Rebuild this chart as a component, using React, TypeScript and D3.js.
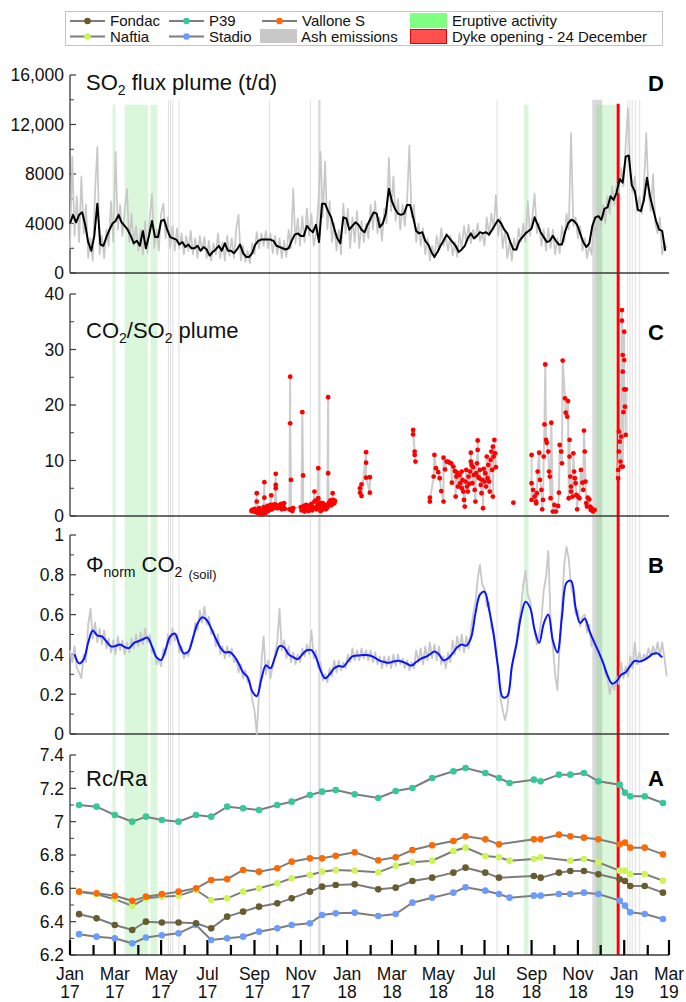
import React from 'react';
import * as d3 from 'd3';

const FONT = '"Liberation Sans", Arial, Helvetica, sans-serif';

// ---- Rc/Ra campaigns (panel A) ----
const campaignDates = [
  '2017-01-13', '2017-02-05', '2017-03-01', '2017-03-24', '2017-04-11', '2017-05-02', '2017-05-24',
  '2017-06-16', '2017-07-06', '2017-07-27', '2017-08-17', '2017-09-07', '2017-10-01', '2017-10-20',
  '2017-11-13', '2017-11-29', '2017-12-17',
  '2018-01-11', '2018-02-11', '2018-03-06', '2018-03-28', '2018-04-23', '2018-05-21', '2018-06-06',
  '2018-07-02', '2018-07-20', '2018-08-03', '2018-09-04', '2018-09-13', '2018-10-07', '2018-10-22',
  '2018-11-09', '2018-11-28', '2018-12-26',
  '2019-01-02', '2019-01-09', '2019-01-28', '2019-02-21',
];
const p39 = [
  7.10, 7.09, 7.04, 7.00, 7.03, 7.01, 7.00, 7.04, 7.03, 7.09, 7.08, 7.07, 7.10, 7.12, 7.16, 7.18, 7.19,
  7.164, 7.142, 7.184, 7.202, 7.262, 7.302, 7.322, 7.292, 7.262, 7.232, 7.252, 7.242, 7.282, 7.282, 7.292, 7.242,
  7.222, 7.174, 7.152, 7.152, 7.112,
];
const valloneS = [
  6.58, 6.57, 6.555, 6.525, 6.55, 6.565, 6.58, 6.60, 6.65, 6.655, 6.71, 6.70, 6.72, 6.76, 6.78, 6.78, 6.795,
  6.816, 6.768, 6.786, 6.83, 6.858, 6.884, 6.912, 6.894, 6.864, null, 6.894, 6.894, 6.922, 6.912, 6.904, 6.894,
  6.864, 6.874, 6.844, 6.844, 6.804,
];
const naftia = [
  6.58, 6.565, 6.535, 6.495, 6.54, 6.55, 6.555, 6.59, 6.53, 6.54, 6.58, 6.60, 6.63, 6.66, 6.68, 6.70, 6.71,
  6.706, 6.696, 6.736, 6.756, 6.766, 6.824, 6.844, 6.794, 6.786, 6.766, 6.776, 6.786, null, 6.766, 6.776, 6.756,
  6.706, 6.706, 6.686, 6.686, 6.646,
];
const fondac = [
  6.445, 6.42, 6.38, 6.35, 6.40, 6.395, 6.395, 6.39, 6.36, 6.43, 6.46, 6.49, 6.51, 6.54, 6.58, 6.61, 6.62,
  6.624, 6.594, 6.604, 6.644, 6.664, 6.694, 6.724, 6.694, 6.664, null, 6.674, 6.664, 6.694, 6.704, 6.704, 6.684,
  6.654, 6.644, 6.614, 6.614, 6.574,
];
const stadio = [
  6.325, 6.31, 6.30, 6.27, 6.305, 6.318, 6.33, 6.38, 6.29, 6.30, 6.31, 6.34, 6.36, 6.38, 6.39, 6.44, 6.45,
  6.454, 6.434, 6.446, 6.514, 6.544, 6.574, 6.606, 6.586, 6.566, 6.544, 6.556, 6.556, 6.566, 6.566, 6.574, 6.566,
  6.526, 6.496, 6.456, 6.446, 6.416,
];

// ---- SO2 flux (panel D), thousands of t/d ----
const so2SmoothStart = '2017-01-01';
const so2SmoothStep = 4;
const so2Smooth = [
  4.0, 4.7, 4.1, 4.7, 4.9, 3.9, 2.5, 1.8, 3.0, 5.6,
  2.3, 2.2, 2.9, 3.5, 4.0, 4.2, 4.7, 4.1, 3.8, 3.5,
  3.0, 2.4, 2.6, 2.2, 3.4, 2.0, 3.0, 4.2, 2.9, 2.9,
  4.2, 4.3, 3.5, 2.9, 2.8, 2.7, 2.3, 2.5, 2.1, 2.3,
  2.0, 2.0, 2.2, 1.8, 2.1, 1.9, 1.4, 1.7, 1.9, 2.2,
  1.8, 2.4, 1.8, 1.8, 1.6, 1.9, 2.3, 1.6, 1.3, 1.3,
  1.6, 2.3, 2.6, 2.7, 2.7, 2.7, 2.7, 2.6, 2.2, 2.1,
  2.0, 1.9, 2.0, 2.6, 3.1, 3.2, 3.0, 3.0, 3.8, 3.5,
  3.3, 3.9, 2.5, 5.6, 5.6, 5.0, 4.5, 3.6, 2.8, 2.4,
  4.5, 4.4, 3.5, 3.8, 4.1, 3.9, 3.5, 3.3, 3.9, 4.4,
  4.9, 4.8, 3.7, 4.0, 4.8, 6.8, 5.8, 5.2, 4.8, 4.7,
  4.8, 5.5, 5.5, 4.5, 3.4, 3.2, 3.3, 2.6, 2.3, 1.7,
  1.3, 1.7, 2.2, 2.6, 3.1, 2.8, 2.5, 2.2, 1.7, 1.9,
  2.2, 2.8, 3.2, 2.8, 3.0, 3.3, 3.2, 3.3, 3.1, 3.5,
  3.9, 4.3, 4.0, 3.5, 3.2, 2.5, 1.9, 1.9, 2.6, 2.9,
  3.2, 3.4, 3.6, 4.5, 3.9, 3.3, 2.9, 2.5, 2.6, 3.0,
  2.6, 2.3, 2.3, 3.3, 4.0, 4.3, 4.2, 3.9, 3.2, 2.5,
  2.1, 2.4, 3.8, 4.5, 4.6, 4.3, 5.2, 5.3, 6.2, 5.9,
  6.5, 7.6, 7.3, 9.4, 9.5, 7.1, 6.6, 5.1, 5.0, 5.9,
  7.7, 6.2, 5.2, 4.2, 3.5, 3.4, 1.8,
];
const so2RawStart = '2017-01-01';
const so2RawStep = 3;
const so2Raw = [
  2.0, 9.4, 3.0, 6.2, 2.5, 7.8, 3.2, 5.5, 1.2, 2.8,
  1.0, 6.5, 10.2, 1.5, 3.0, 1.2, 3.5, 2.2, 5.8, 2.5,
  9.8, 3.5, 5.5, 3.0, 5.0, 6.8, 2.5, 4.8, 2.2, 3.8,
  1.8, 3.5, 1.5, 4.2, 1.6, 4.5, 6.4, 2.0, 3.5, 1.8,
  4.8, 5.6, 2.8, 4.5, 2.0, 3.8, 1.8, 3.6, 2.0, 3.2,
  1.5, 3.0, 1.8, 3.4, 1.5, 2.8, 1.2, 3.0, 1.8, 2.9,
  1.2, 2.6, 1.0, 2.4, 1.5, 3.2, 1.2, 2.5, 1.0, 3.0,
  1.4, 2.8, 1.2, 3.6, 4.7, 1.0, 2.2, 0.9, 1.8, 0.8,
  2.4, 1.5, 3.3, 2.0, 3.2, 2.2, 3.4, 2.0, 3.2, 1.6,
  3.0, 1.5, 2.8, 1.2, 2.6, 1.3, 3.5, 2.0, 6.8, 2.4,
  4.4, 2.2, 4.6, 2.5, 5.2, 3.0, 4.8, 2.2, 3.2, 5.5,
  9.8, 4.5, 9.0, 3.5, 5.8, 2.5, 4.0, 1.8, 3.5, 1.5,
  5.6, 3.2, 5.2, 2.0, 4.5, 2.5, 5.0, 2.0, 4.2, 2.5,
  4.0, 2.8, 5.5, 3.5, 5.8, 3.2, 4.5, 2.6, 5.2, 4.0,
  9.3, 5.0, 7.8, 4.2, 6.0, 3.5, 5.5, 3.8, 5.8, 10.3,
  4.5, 5.5, 2.5, 4.0, 2.2, 3.6, 1.5, 2.8, 1.0, 2.2,
  1.2, 3.0, 1.8, 3.6, 2.2, 3.0, 1.8, 3.0, 1.4, 2.5,
  1.3, 3.2, 2.0, 3.8, 2.5, 3.9, 2.4, 3.5, 2.8, 4.0,
  2.6, 3.2, 2.2, 4.5, 3.0, 4.8, 3.5, 6.3, 3.0, 4.5,
  2.0, 3.5, 1.2, 2.5, 1.0, 2.8, 1.8, 3.6, 2.5, 4.0,
  2.5, 5.8, 3.0, 4.5, 6.4, 3.2, 4.0, 2.2, 3.5, 1.8,
  3.6, 2.0, 3.5, 1.5, 2.8, 1.6, 3.8, 2.5, 4.8, 3.5,
  11.3, 3.8, 4.5, 2.8, 3.8, 1.8, 2.8, 1.2, 2.2, 1.5,
  4.2, 3.0, 5.2, 3.8, 5.5, 4.0, 6.2, 4.8, 7.0, 5.5,
  7.2, 6.5, 8.5, 7.0, 10.5, 13.3, 8.0, 6.5, 7.8, 5.0,
  6.2, 4.8, 7.0, 11.3, 6.5, 5.0, 8.0, 4.0, 3.2, 4.5,
  1.5, 2.5, 2.0,
];

// ---- CO2/SO2 plume ratio (panel C) ----
const ratioPoints: [string, number][] = [
  ['2017-08-28', 0.9], ['2017-08-29', 1.1], ['2017-08-31', 0.8], ['2017-09-01', 1.3], ['2017-09-03', 0.7],
  ['2017-09-04', 4.1], ['2017-09-04', 2.6], ['2017-09-05', 1.0], ['2017-09-06', 0.5], ['2017-09-07', 1.4],
  ['2017-09-08', 0.6], ['2017-09-09', 0.9], ['2017-09-10', 0.3], ['2017-09-11', 1.2], ['2017-09-12', 0.4],
  ['2017-09-13', 1.6], ['2017-09-14', 6.1], ['2017-09-14', 3.3], ['2017-09-14', 1.0], ['2017-09-15', 0.5],
  ['2017-09-16', 1.3], ['2017-09-17', 0.8], ['2017-09-18', 1.8], ['2017-09-19', 0.9], ['2017-09-20', 1.5],
  ['2017-09-21', 1.1], ['2017-09-22', 2.0], ['2017-09-23', 3.7], ['2017-09-23', 1.6], ['2017-09-24', 1.2],
  ['2017-09-25', 2.0], ['2017-09-26', 1.4], ['2017-09-27', 1.8], ['2017-09-28', 2.1], ['2017-09-29', 7.6],
  ['2017-09-29', 5.6], ['2017-09-29', 5.0], ['2017-09-30', 1.7], ['2017-10-01', 1.4], ['2017-10-02', 1.9],
  ['2017-10-05', 1.5], ['2017-10-06', 2.2], ['2017-10-07', 1.2], ['2017-10-08', 2.0], ['2017-10-09', 1.6],
  ['2017-10-10', 2.3], ['2017-10-11', 1.3],
  ['2017-10-17', 1.2], ['2017-10-18', 25.1], ['2017-10-18', 16.7], ['2017-10-19', 6.5], ['2017-10-19', 1.1],
  ['2017-10-20', 1.3], ['2017-10-21', 0.9], ['2017-10-22', 1.4],
  ['2017-11-01', 1.6], ['2017-11-02', 1.0], ['2017-11-03', 18.7], ['2017-11-04', 7.3], ['2017-11-04', 1.2],
  ['2017-11-05', 1.8], ['2017-11-06', 0.8], ['2017-11-07', 1.5], ['2017-11-08', 2.0], ['2017-11-09', 1.1],
  ['2017-11-10', 1.7], ['2017-11-11', 0.9], ['2017-11-13', 1.9], ['2017-11-14', 1.3], ['2017-11-15', 2.2],
  ['2017-11-16', 1.0], ['2017-11-17', 1.6], ['2017-11-19', 4.4], ['2017-11-19', 2.6], ['2017-11-20', 1.4],
  ['2017-11-21', 2.8], ['2017-11-22', 1.2], ['2017-11-23', 2.0], ['2017-11-24', 8.6], ['2017-11-24', 3.2],
  ['2017-11-25', 1.5], ['2017-11-26', 2.4], ['2017-11-27', 0.9], ['2017-11-28', 1.8], ['2017-11-29', 1.1],
  ['2017-11-30', 2.3], ['2017-12-01', 1.4], ['2017-12-03', 2.0], ['2017-12-04', 1.2], ['2017-12-06', 1.5],
  ['2017-12-07', 21.4], ['2017-12-07', 7.7], ['2017-12-08', 2.4], ['2017-12-09', 2.1], ['2017-12-10', 2.8],
  ['2017-12-11', 1.9], ['2017-12-12', 2.6], ['2017-12-13', 4.1], ['2017-12-13', 2.2], ['2017-12-14', 2.9],
  ['2017-12-15', 2.3], ['2017-12-16', 2.7],
  ['2018-01-18', 5.0], ['2018-01-18', 4.2], ['2018-01-20', 5.7], ['2018-01-20', 3.6], ['2018-01-26', 11.5],
  ['2018-01-26', 9.6], ['2018-01-26', 6.9], ['2018-01-31', 4.2], ['2018-01-31', 7.0],
  ['2018-03-29', 15.5], ['2018-03-29', 14.7], ['2018-03-31', 11.6], ['2018-03-31', 11.0], ['2018-04-01', 9.8],
  ['2018-04-20', 3.3], ['2018-04-20', 2.6], ['2018-04-25', 7.1], ['2018-04-26', 11.0], ['2018-04-28', 8.6],
  ['2018-05-01', 7.9], ['2018-05-03', 6.8], ['2018-05-05', 4.5], ['2018-05-08', 2.6], ['2018-05-08', 10.5],
  ['2018-05-10', 8.4], ['2018-05-12', 9.8], ['2018-05-14', 9.8], ['2018-05-16', 9.6], ['2018-05-18', 9.5],
  ['2018-05-19', 6.0], ['2018-05-21', 8.9], ['2018-05-23', 8.1], ['2018-05-24', 3.5], ['2018-05-25', 7.1],
  ['2018-05-26', 7.8], ['2018-05-27', 5.3], ['2018-05-29', 7.4], ['2018-05-30', 5.9], ['2018-06-01', 5.0],
  ['2018-06-01', 8.0], ['2018-06-02', 6.5], ['2018-06-03', 4.4], ['2018-06-04', 2.9], ['2018-06-05', 1.7],
  ['2018-06-06', 6.2], ['2018-06-07', 8.3], ['2018-06-08', 5.3], ['2018-06-09', 4.4], ['2018-06-10', 7.1],
  ['2018-06-11', 5.8], ['2018-06-12', 8.0], ['2018-06-13', 9.8], ['2018-06-13', 11.4], ['2018-06-14', 9.2],
  ['2018-06-15', 5.9], ['2018-06-16', 8.8], ['2018-06-17', 7.4], ['2018-06-18', 4.7], ['2018-06-19', 2.6],
  ['2018-06-20', 7.7], ['2018-06-21', 9.5], ['2018-06-22', 11.9], ['2018-06-22', 13.6], ['2018-06-23', 7.0],
  ['2018-06-24', 6.8], ['2018-06-25', 8.3], ['2018-06-26', 5.6], ['2018-06-27', 4.1], ['2018-06-28', 6.5],
  ['2018-06-29', 1.4], ['2018-06-30', 8.5], ['2018-07-01', 6.2], ['2018-07-02', 7.7], ['2018-07-03', 5.3],
  ['2018-07-04', 10.7], ['2018-07-05', 6.8], ['2018-07-06', 9.2], ['2018-07-07', 6.2], ['2018-07-08', 4.4],
  ['2018-07-09', 10.1], ['2018-07-10', 11.6], ['2018-07-11', 8.3], ['2018-07-12', 12.5], ['2018-07-12', 3.5],
  ['2018-07-13', 10.7], ['2018-07-14', 13.7], ['2018-07-15', 11.3], ['2018-07-16', 8.8],
  ['2018-08-08', 2.4],
  ['2018-09-01', 11.0], ['2018-09-01', 5.9], ['2018-09-01', 2.9], ['2018-09-03', 4.7], ['2018-09-05', 3.5],
  ['2018-09-07', 2.6], ['2018-09-07', 2.3], ['2018-09-08', 4.1], ['2018-09-09', 8.0], ['2018-09-11', 11.4],
  ['2018-09-12', 6.5], ['2018-09-14', 4.7], ['2018-09-15', 1.2], ['2018-09-16', 2.9], ['2018-09-17', 10.7],
  ['2018-09-18', 16.5], ['2018-09-19', 27.3], ['2018-09-20', 13.7], ['2018-09-21', 13.2], ['2018-09-23', 11.6],
  ['2018-09-24', 8.0], ['2018-09-25', 7.1], ['2018-09-26', 3.2], ['2018-09-27', 16.8], ['2018-09-29', 0.8],
  ['2018-10-01', 2.0], ['2018-10-03', 0.8], ['2018-10-06', 1.8], ['2018-10-07', 4.2], ['2018-10-08', 12.8],
  ['2018-10-10', 11.6], ['2018-10-11', 9.5], ['2018-10-12', 28.0], ['2018-10-15', 21.2], ['2018-10-16', 18.6],
  ['2018-10-18', 17.9], ['2018-10-19', 20.7], ['2018-10-20', 3.2], ['2018-10-21', 13.7], ['2018-10-21', 10.7],
  ['2018-10-22', 7.1], ['2018-10-23', 5.3], ['2018-10-23', 4.4], ['2018-10-25', 3.5], ['2018-10-26', 11.3],
  ['2018-10-27', 8.0], ['2018-10-28', 6.8], ['2018-10-29', 5.9], ['2018-10-30', 3.8], ['2018-10-31', 1.2],
  ['2018-11-01', 3.5], ['2018-11-03', 3.2], ['2018-11-05', 8.3], ['2018-11-07', 6.0], ['2018-11-08', 4.7],
  ['2018-11-09', 15.4], ['2018-11-10', 11.6], ['2018-11-11', 6.2], ['2018-11-12', 2.3], ['2018-11-13', 1.7],
  ['2018-11-14', 3.3], ['2018-11-16', 3.0], ['2018-11-17', 1.7], ['2018-11-18', 1.1], ['2018-11-19', 1.4],
  ['2018-11-20', 1.0], ['2018-11-21', 0.8], ['2018-11-23', 1.1],
  ['2018-12-24', 6.8], ['2018-12-24', 8.3], ['2018-12-25', 11.6], ['2018-12-25', 15.2], ['2018-12-26', 13.4],
  ['2018-12-27', 9.8], ['2018-12-28', 8.9], ['2018-12-28', 14.3], ['2018-12-29', 37.1], ['2018-12-29', 35.2],
  ['2018-12-30', 29.0], ['2018-12-30', 26.0], ['2018-12-30', 8.9], ['2018-12-31', 18.7], ['2019-01-01', 33.2],
  ['2019-01-01', 28.1], ['2019-01-01', 22.8], ['2019-01-02', 19.7], ['2019-01-03', 22.8], ['2019-01-03', 14.6],
];

// ---- normalised soil CO2 flux (panel B) ----
const soilRawStart = '2017-01-01';
const soilRawStep = 3;
const soilRaw = [
  0.42, 0.36, 0.44, 0.33, 0.31, 0.28, 0.40, 0.36, 0.55, 0.63,
  0.48, 0.56, 0.46, 0.53, 0.45, 0.52, 0.43, 0.48, 0.41, 0.47,
  0.40, 0.49, 0.42, 0.47, 0.40, 0.46, 0.41, 0.48, 0.43, 0.50,
  0.44, 0.51, 0.45, 0.53, 0.46, 0.50, 0.41, 0.43, 0.35, 0.38,
  0.34, 0.43, 0.40, 0.50, 0.45, 0.53, 0.47, 0.50, 0.41, 0.44,
  0.38, 0.41, 0.39, 0.46, 0.47, 0.56, 0.52, 0.62, 0.56, 0.64,
  0.55, 0.59, 0.50, 0.52, 0.44, 0.50, 0.40, 0.44, 0.38, 0.44,
  0.39, 0.43, 0.36, 0.38, 0.31, 0.35, 0.28, 0.32, 0.26, 0.27,
  0.17, 0.12, 0.00, 0.21, 0.35, 0.49, 0.30, 0.37, 0.28, 0.34,
  0.40, 0.46, 0.63, 0.42, 0.47, 0.38, 0.44, 0.36, 0.41, 0.35,
  0.40, 0.36, 0.43, 0.39, 0.45, 0.40, 0.52, 0.38, 0.42, 0.33,
  0.36, 0.27, 0.30, 0.26, 0.33, 0.29, 0.37, 0.31, 0.37, 0.32,
  0.36, 0.33, 0.40, 0.36, 0.43, 0.37, 0.42, 0.37, 0.43, 0.38,
  0.42, 0.37, 0.42, 0.36, 0.41, 0.35, 0.39, 0.33, 0.39, 0.34,
  0.39, 0.33, 0.40, 0.34, 0.40, 0.35, 0.38, 0.33, 0.37, 0.32,
  0.36, 0.33, 0.42, 0.36, 0.43, 0.35, 0.44, 0.37, 0.46, 0.38,
  0.45, 0.37, 0.44, 0.35, 0.39, 0.33, 0.41, 0.36, 0.47, 0.40,
  0.49, 0.42, 0.50, 0.41, 0.49, 0.43, 0.52, 0.60, 0.66, 0.78,
  0.85, 0.75, 0.73, 0.64, 0.66, 0.53, 0.52, 0.40, 0.33, 0.18,
  0.12, 0.07, 0.12, 0.25, 0.33, 0.41, 0.46, 0.56, 0.63, 0.75,
  0.82, 0.70, 0.67, 0.58, 0.52, 0.45, 0.50, 0.58, 0.72, 0.79,
  0.92, 0.58, 0.44, 0.30, 0.22, 0.45, 0.65, 0.85, 0.94, 0.88,
  0.74, 0.70, 0.60, 0.62, 0.54, 0.59, 0.60, 0.51, 0.55, 0.44,
  0.48, 0.40, 0.44, 0.36, 0.37, 0.30, 0.28, 0.20, 0.26, 0.22,
  0.29, 0.25, 0.36, 0.28, 0.34, 0.29, 0.39, 0.33, 0.46, 0.35,
  0.41, 0.36, 0.40, 0.38, 0.43, 0.39, 0.44, 0.40, 0.46, 0.39,
  0.46, 0.38, 0.29,
];
const soilSmoothStart = '2017-01-07';
const soilSmoothStep = 6;
const soilSmooth = [
  0.40, 0.355, 0.375, 0.46, 0.52, 0.495, 0.49, 0.465, 0.44, 0.442,
  0.45, 0.437, 0.432, 0.457, 0.466, 0.476, 0.484, 0.44, 0.385, 0.372,
  0.425, 0.49, 0.505, 0.45, 0.405, 0.415, 0.483, 0.555, 0.586, 0.573,
  0.53, 0.48, 0.435, 0.41, 0.412, 0.393, 0.355, 0.31, 0.285, 0.215,
  0.19, 0.275, 0.345, 0.33, 0.385, 0.442, 0.435, 0.40, 0.386, 0.376,
  0.40, 0.421, 0.421, 0.385, 0.32, 0.28, 0.30, 0.33, 0.342, 0.338,
  0.365, 0.39, 0.394, 0.396, 0.397, 0.393, 0.382, 0.369, 0.362, 0.358,
  0.364, 0.368, 0.363, 0.353, 0.344, 0.362, 0.378, 0.387, 0.40, 0.414,
  0.40, 0.37, 0.38, 0.405, 0.436, 0.45, 0.444, 0.48, 0.605, 0.70,
  0.715, 0.625, 0.50, 0.33, 0.185, 0.19, 0.34, 0.45, 0.59, 0.665,
  0.635, 0.523, 0.458, 0.555, 0.60, 0.47, 0.41, 0.59, 0.76, 0.77,
  0.635, 0.558, 0.58, 0.52, 0.465, 0.415, 0.36, 0.295, 0.253, 0.265,
  0.298, 0.31, 0.342, 0.368, 0.364, 0.372, 0.386, 0.403, 0.405, 0.385,
];

// ---- event periods ----
const eruptivePeriods: [string, string][] = [
  ['2017-02-26', '2017-03-02'], ['2017-03-14', '2017-04-14'], ['2017-04-17', '2017-04-26'],
  ['2018-08-22', '2018-08-28'], ['2018-11-25', '2018-12-21'],
];
const ashPeriods: [string, string][] = [
  ['2017-05-10', '2017-05-11'], ['2017-05-13', '2017-05-14'], ['2017-05-16', '2017-05-17'],
  ['2017-05-24', '2017-05-25'], ['2017-09-20', '2017-09-21'], ['2017-11-13', '2017-11-14'],
  ['2017-11-24', '2017-11-27'], ['2018-07-17', '2018-07-18'], ['2018-11-20', '2018-12-03'],
  ['2019-01-05', '2019-01-06'], ['2019-01-08', '2019-01-09'], ['2019-01-11', '2019-01-12'],
  ['2019-01-15', '2019-01-16'], ['2019-01-21', '2019-01-22'],
];
const dykeDate = '2018-12-24';

// ---- axis ticks ----
const so2Ticks = [0, 4, 8, 12, 16];
const so2TickLabels = ['0', '4000', '8000', '12,000', '16,000'];
const so2Minor = [2, 6, 10, 14];
const ratioTicks = [0, 10, 20, 30, 40];
const ratioTickLabels = ['0', '10', '20', '30', '40'];
const ratioMinor = [5, 15, 25, 35];
const soilTicks = [0, 0.2, 0.4, 0.6, 0.8, 1];
const soilTickLabels = ['0', '0.2', '0.4', '0.6', '0.8', '1'];
const soilMinor = [0.1, 0.3, 0.5, 0.7, 0.9];
const rcTicks = [6.2, 6.4, 6.6, 6.8, 7.0, 7.2, 7.4];
const rcTickLabels = ['6.2', '6.4', '6.6', '6.8', '7', '7.2', '7.4'];
const rcMinor = [6.3, 6.5, 6.7, 6.9, 7.1, 7.3];

const parse = d3.timeParse('%Y-%m-%d');
const D = (s: string) => parse(s) as Date;

const X0 = 70;
const X1 = 669;
const x = d3.scaleTime().domain([D('2017-01-01'), D('2019-03-01')]).range([X0, X1]);

const yD = d3.scaleLinear().domain([0, 16]).range([273, 75]);
const yC = d3.scaleLinear().domain([0, 40]).range([516, 294]);
const yB = d3.scaleLinear().domain([0, 1]).range([734, 535]);
const yA = d3.scaleLinear().domain([6.2, 7.4]).range([955, 755]);

type Pt = { date: Date; v: number };
const regular = (start: string, step: number, vals: number[]): Pt[] =>
  vals.map((v, i) => ({ date: d3.timeDay.offset(D(start), i * step), v }));

const AXIS = '#3a3a3a';

function YAxis({ y, major, labels, minor }: { y: d3.ScaleLinear<number, number>; major: number[]; labels: string[]; minor: number[] }) {
  const [bottom, top] = y.range();
  return (
    <g>
      <line x1={X0} x2={X0} y1={top} y2={bottom} stroke={AXIS} strokeWidth={1.3} />
      <line x1={X0} x2={X1} y1={bottom} y2={bottom} stroke={AXIS} strokeWidth={1.3} />
      {major.map((v, i) => (
        <g key={'M' + i}>
          <line x1={X0} x2={X0 + 6} y1={y(v)} y2={y(v)} stroke={AXIS} strokeWidth={1.2} />
          <text x={64} y={y(v)} dy="0.36em" textAnchor="end" fontSize={17.5} fill="#111">{labels[i]}</text>
        </g>
      ))}
      {minor.map((v, i) => (
        <line key={'m' + i} x1={X0} x2={X0 + 4} y1={y(v)} y2={y(v)} stroke={AXIS} strokeWidth={1} />
      ))}
    </g>
  );
}

const seriesA = [
  { name: 'P39', vals: p39, color: '#35c995' },
  { name: 'Stadio', vals: stadio, color: '#6a9cff' },
  { name: 'Fondac', vals: fondac, color: '#685c2c' },
  { name: 'Naftia', vals: naftia, color: '#cdf55a' },
  { name: 'Vallone S', vals: valloneS, color: '#ff6a00' },
];

export default function App() {
  const so2SmoothPts = regular(so2SmoothStart, so2SmoothStep, so2Smooth);
  const so2RawPts = regular(so2RawStart, so2RawStep, so2Raw);
  const soilRawPts = regular(soilRawStart, soilRawStep, soilRaw);
  const soilSmoothPts = regular(soilSmoothStart, soilSmoothStep, soilSmooth);

  const lineD = d3.line<Pt>().x(d => x(d.date)).y(d => yD(d.v));
  const lineB = d3.line<Pt>().x(d => x(d.date)).y(d => yB(d.v));
  const lineBs = d3.line<Pt>().x(d => x(d.date)).y(d => yB(d.v)).curve(d3.curveCatmullRom);
  const lineC = d3.line<Pt>().x(d => x(d.date)).y(d => yC(d.v));
  const lineA = d3.line<Pt>().x(d => x(d.date)).y(d => yA(d.v));

  // ratio data split where sampling stops for more than 12 days
  const ratioPts: Pt[] = ratioPoints.map(([d, v]) => ({ date: D(d), v }));
  const segments: Pt[][] = [];
  ratioPts.forEach((p, i) => {
    if (i === 0 || d3.timeDay.count(ratioPts[i - 1].date, p.date) > 12) segments.push([]);
    segments[segments.length - 1].push(p);
  });

  const bandBottom = yA(6.2);
  const ashTop = yD(14);
  const greenTop = yD(13.6);

  const months = d3.timeMonth.range(D('2017-01-01'), D('2019-03-02'));
  const fmtMon = d3.timeFormat('%b');
  const fmtYr = d3.timeFormat('%y');

  const legendRows = [
    [{ name: 'Fondac', color: '#685c2c', x: 70 }, { name: 'P39', color: '#35c995', x: 169 }, { name: 'Vallone S', color: '#ff6a00', x: 262 }],
    [{ name: 'Naftia', color: '#cdf55a', x: 70 }, { name: 'Stadio', color: '#6a9cff', x: 169 }],
  ];

  return (
    <svg width={686} height={1002} style={{ position: 'absolute', left: 0, top: 0, background: '#fff' }} fontFamily={FONT}>
      {/* event bands */}
      {ashPeriods.map(([a, b], i) => (
        <rect key={'ash' + i} x={x(D(a))} y={ashTop} width={Math.max(0.8, x(D(b)) - x(D(a)))} height={bandBottom - ashTop} fill="#d0d0d0" opacity={0.8} />
      ))}
      {eruptivePeriods.map(([a, b], i) => (
        <rect key={'er' + i} x={x(D(a))} y={greenTop} width={x(D(b)) - x(D(a))} height={bandBottom - greenTop} fill="#6fe06f" opacity={0.25} />
      ))}
      <line x1={x(D(dykeDate))} x2={x(D(dykeDate))} y1={greenTop - 1} y2={bandBottom} stroke="#ff0000" strokeWidth={3} />

      {/* axes */}
      <YAxis y={yD} major={so2Ticks} labels={so2TickLabels} minor={so2Minor} />
      <YAxis y={yC} major={ratioTicks} labels={ratioTickLabels} minor={ratioMinor} />
      <YAxis y={yB} major={soilTicks} labels={soilTickLabels} minor={soilMinor} />
      <YAxis y={yA} major={rcTicks} labels={rcTickLabels} minor={rcMinor} />

      {months.map((m, i) => {
        const major = m.getMonth() % 2 === 0;
        const xm = x(m);
        return (
          <g key={'mt' + i}>
            <line x1={xm} x2={xm} y1={bandBottom} y2={bandBottom - (major ? 15 : 10)} stroke="#000" strokeWidth={2.2} />
            {major && (
              <text x={xm} textAnchor="middle" fontSize={17.5} fill="#111">
                <tspan x={xm} y={980}>{fmtMon(m)}</tspan>
                <tspan x={xm} y={998}>{fmtYr(m)}</tspan>
              </text>
            )}
          </g>
        );
      })}

      {/* panel D */}
      <path d={lineD(so2RawPts) || ''} fill="none" stroke="#c8c8c8" strokeWidth={1.7} strokeLinejoin="round" />
      <path d={lineD(so2SmoothPts) || ''} fill="none" stroke="#000" strokeWidth={2} strokeLinejoin="round" />

      {/* panel C */}
      {segments.map((s, i) => (
        <path key={'cs' + i} d={lineC(s) || ''} fill="none" stroke="#cccccc" strokeWidth={2} strokeLinejoin="round" />
      ))}
      {ratioPts.map((p, i) => (
        <circle key={'cp' + i} cx={x(p.date)} cy={yC(p.v)} r={2.4} fill="#ff0000" />
      ))}

      {/* panel B */}
      <path d={lineB(soilRawPts) || ''} fill="none" stroke="#c8c8c8" strokeWidth={1.8} strokeLinejoin="round" />
      <path d={lineBs(soilSmoothPts) || ''} fill="none" stroke="#0a14ff" strokeWidth={2} strokeLinejoin="round" />

      {/* panel A */}
      {seriesA.map(s => {
        const pts: Pt[] = [];
        s.vals.forEach((v, i) => { if (v != null) pts.push({ date: D(campaignDates[i]), v }); });
        return <path key={'al' + s.name} d={lineA(pts) || ''} fill="none" stroke="#7d7d7d" strokeWidth={2} />;
      })}
      {seriesA.map(s => (
        <g key={'ap' + s.name}>
          {s.vals.map((v, i) => v == null ? null : (
            <circle key={i} cx={x(D(campaignDates[i]))} cy={yA(v)} r={3.3} fill={s.color} />
          ))}
        </g>
      ))}

      {/* panel titles */}
      <text x={86} y={90} fontSize={22} fill="#111">
        SO<tspan fontSize={14} dy={5}>2</tspan><tspan dy={-5}> flux plume (t/d)</tspan>
      </text>
      <text x={86} y={338} fontSize={22} fill="#111">
        CO<tspan fontSize={14} dy={5}>2</tspan><tspan dy={-5}>/SO</tspan><tspan fontSize={14} dy={5}>2</tspan><tspan dy={-5}> plume</tspan>
      </text>
      <text x={86} y={572} fontSize={22} fill="#111">
        Φ<tspan fontSize={14} dy={5}>norm</tspan><tspan dy={-5}> CO</tspan><tspan fontSize={14} dy={5}>2</tspan><tspan fontSize={13} dx={6} dy={2}>(soil)</tspan>
      </text>
      <text x={86} y={786} fontSize={22} fill="#111">Rc/Ra</text>

      {[['D', 91], ['C', 340], ['B', 573], ['A', 786]].map(([l, yy]) => (
        <text key={l as string} x={656} y={yy as number} textAnchor="middle" fontSize={22} fontWeight="bold" fill="#000">{l}</text>
      ))}

      {/* legend */}
      <rect x={65.5} y={11.5} width={597} height={34} fill="#fff" stroke="#c4c4c4" strokeWidth={1} />
      {legendRows.map((row, r) =>
        row.map(it => {
          const yy = r === 0 ? 21 : 36.5;
          return (
            <g key={it.name}>
              <line x1={it.x} x2={it.x + 35} y1={yy} y2={yy} stroke="#7d7d7d" strokeWidth={2} />
              <circle cx={it.x + 17.5} cy={yy} r={3.3} fill={it.color} />
              <text x={it.x + 40} y={yy + 5.3} fontSize={15} fill="#111">{it.name}</text>
            </g>
          );
        })
      )}
      <rect x={260} y={29} width={37} height={14} fill="#c8c8c8" />
      <text x={301} y={41.8} fontSize={15} fill="#111">Ash emissions</text>
      <rect x={410} y={13} width={37} height={15} fill="#80ff80" />
      <text x={452} y={26.3} fontSize={15} fill="#111">Eruptive activity</text>
      <rect x={410.5} y={29.5} width={36} height={14} fill="#ff5050" stroke="#e00000" strokeWidth={1} />
      <text x={452} y={41.8} fontSize={15} fill="#111">Dyke opening - 24 December</text>
    </svg>
  );
}
